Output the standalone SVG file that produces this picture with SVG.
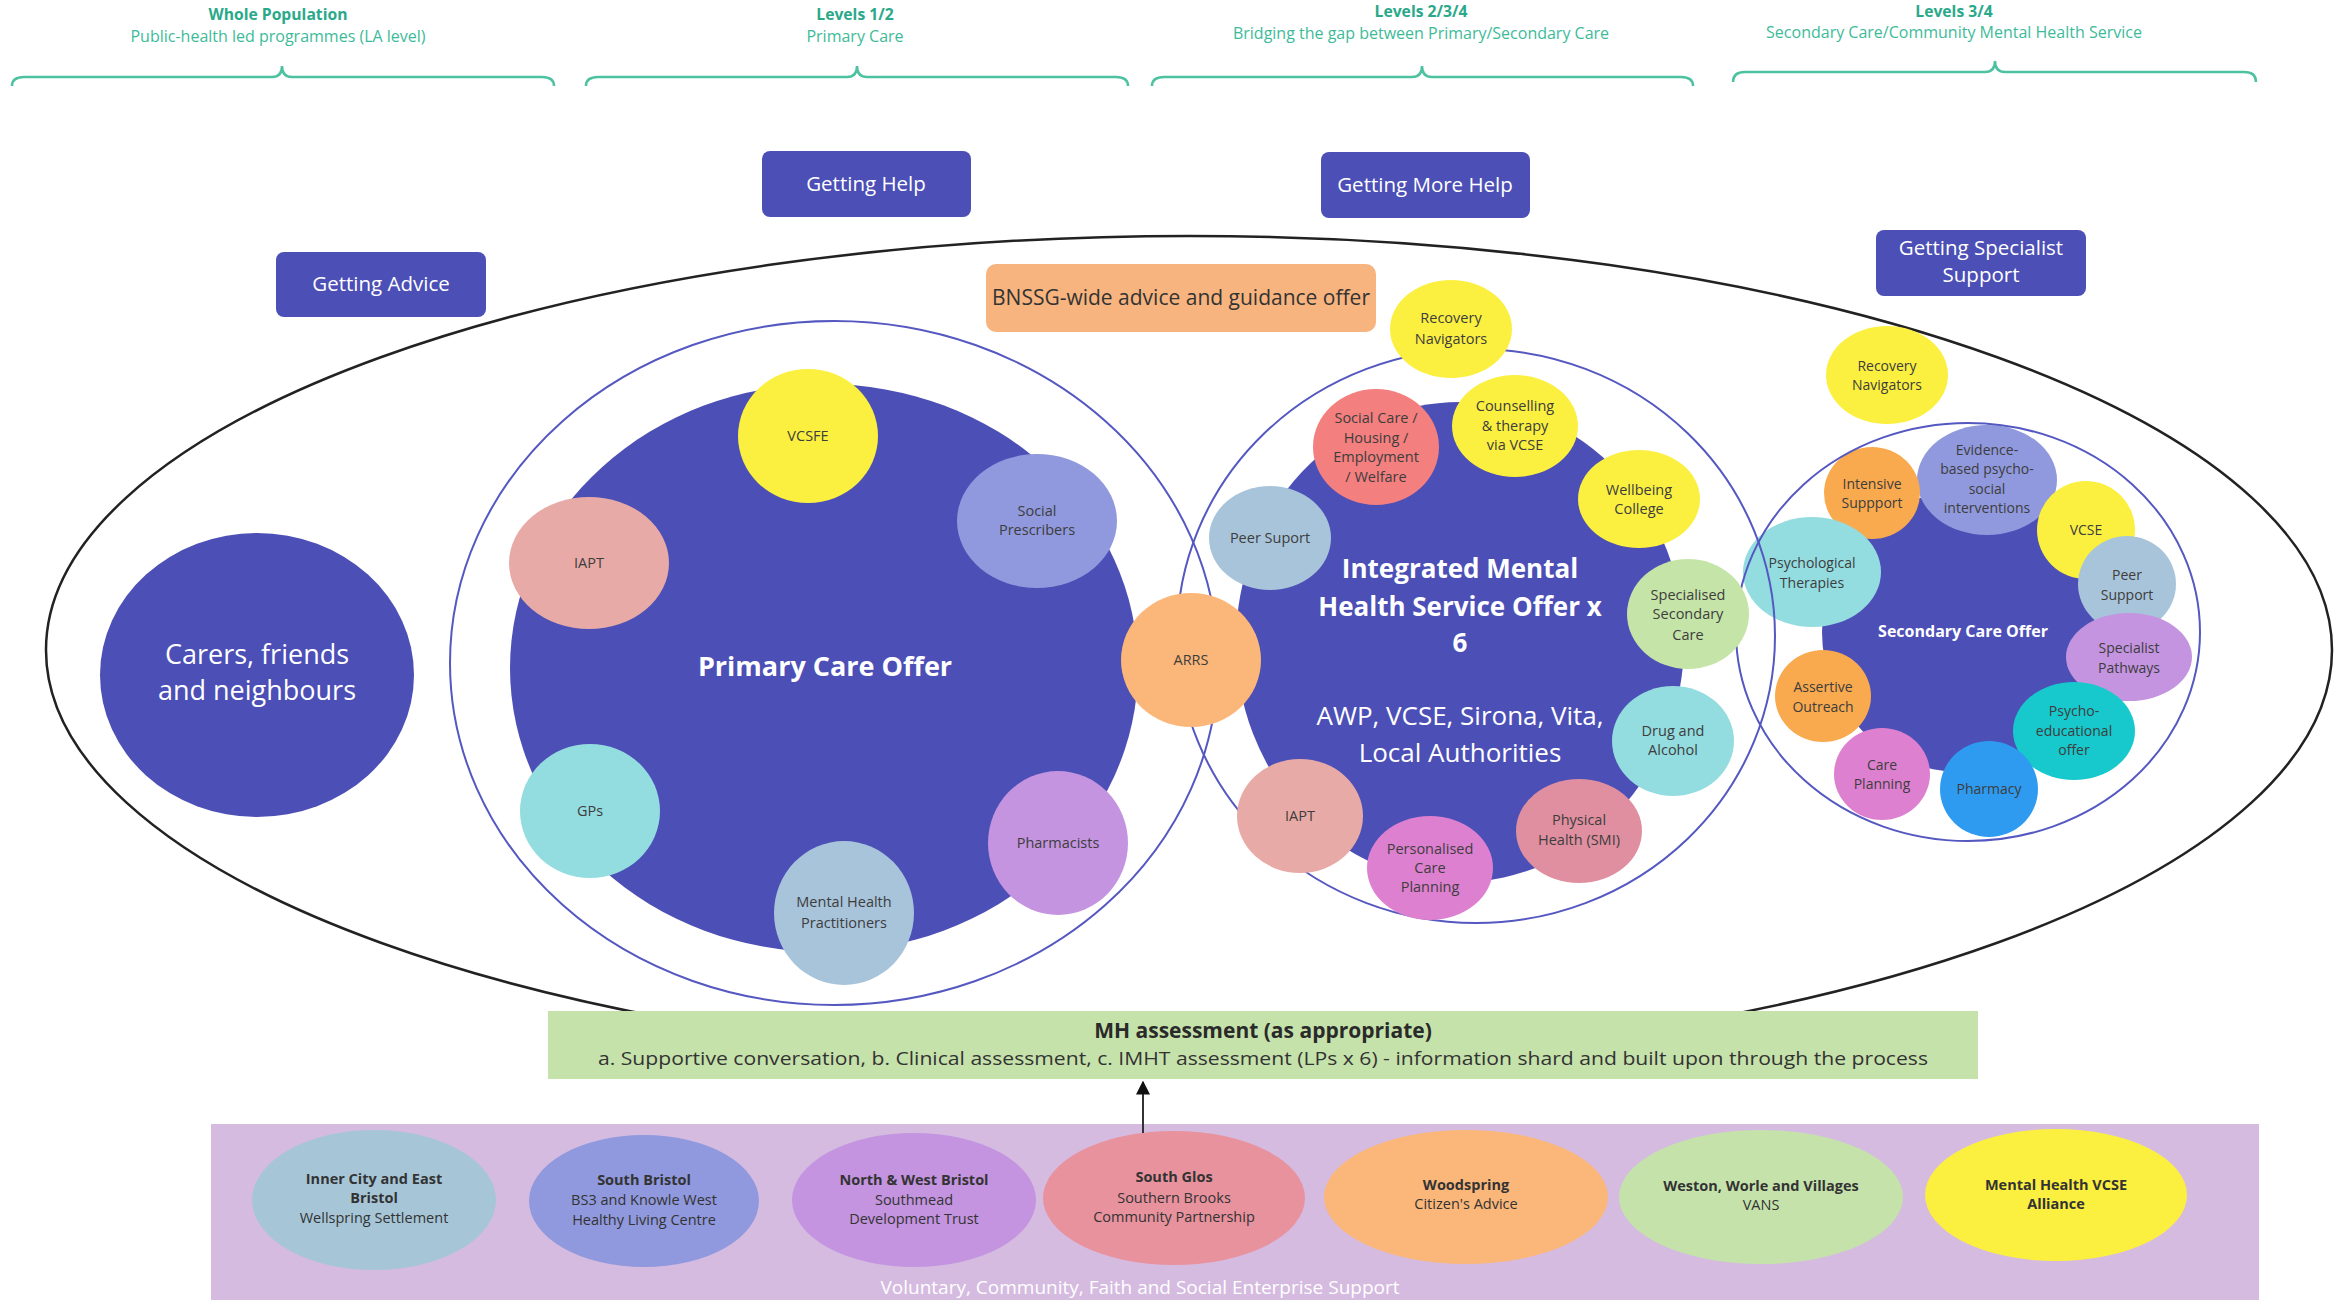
<svg xmlns="http://www.w3.org/2000/svg" width="2343" height="1300" viewBox="0 0 2343 1300">
<style>
text { font-family: "Open Sans", "Liberation Sans", sans-serif; text-anchor: middle; }
.hb { font-size: 15.7px; font-weight: bold; fill: #2aa98a; }
.hs { font-size: 16px; fill: #3dbb99; }
.brace { fill: none; stroke: #4cc2a0; stroke-width: 2.5; }
.btn { fill: #4c4fb6; }
.btnt { font-size: 20.5px; fill: #ffffff; }
.outline { fill: none; stroke: #5458c0; stroke-width: 2; }
.fillc { fill: #4c4fb6; }
.wb { fill: #ffffff; font-weight: bold; }
.wr { fill: #ffffff; }
.s { font-size: 14.5px; fill: #3d3d3d; }
.ss { font-size: 14px; fill: #3d3d3d; }
.b { font-size: 14.5px; fill: #333333; }
.bb { font-weight: bold; }
</style>
<defs>
<marker id="arr" viewBox="0 0 10 10" refX="9" refY="5" markerWidth="7" markerHeight="7" orient="auto">
<path d="M0,0 L10,5 L0,10 z" fill="#111111"/>
</marker>
</defs>

<g id="headers">
<text class="hb" x="278" y="20">Whole Population</text>
<text class="hs" x="278" y="42">Public-health led programmes (LA level)</text>
<path class="brace" d="M12,86 Q12,77 24,77 L272,77 Q282,77 282,66 Q282,77 292,77 L542,77 Q554,77 554,86"/>
<text class="hb" x="855" y="20">Levels 1/2</text>
<text class="hs" x="855" y="42">Primary Care</text>
<path class="brace" d="M586,86 Q586,77 598,77 L847,77 Q857,77 857,66 Q857,77 867,77 L1116,77 Q1128,77 1128,86"/>
<text class="hb" x="1421" y="17">Levels 2/3/4</text>
<text class="hs" x="1421" y="39">Bridging the gap between Primary/Secondary Care</text>
<path class="brace" d="M1152,86 Q1152,77 1164,77 L1412,77 Q1422,77 1422,66 Q1422,77 1432,77 L1681,77 Q1693,77 1693,86"/>
<text class="hb" x="1954" y="17">Levels 3/4</text>
<text class="hs" x="1954" y="38">Secondary Care/Community Mental Health Service</text>
<path class="brace" d="M1733,82 Q1733,72 1745,72 L1985,72 Q1995,72 1995,61 Q1995,72 2005,72 L2244,72 Q2256,72 2256,82"/>
</g>

<g id="big-ellipse">
<ellipse cx="1189" cy="650" rx="1143" ry="414" fill="none" stroke="#222222" stroke-width="2.5"/>
</g>

<g id="btn-help"><rect class="btn" x="762" y="151" width="209" height="66" rx="8"/><text class="btnt" x="866" y="191">Getting Help</text></g>
<g id="btn-more-help"><rect class="btn" x="1321" y="152" width="209" height="66" rx="8"/><text class="btnt" x="1425" y="192">Getting More Help</text></g>
<g id="btn-advice"><rect class="btn" x="276" y="252" width="210" height="65" rx="8"/><text class="btnt" x="381" y="291">Getting Advice</text></g>
<g id="btn-specialist"><rect class="btn" x="1876" y="230" width="210" height="66" rx="8"/><text class="btnt" x="1981" y="255">Getting Specialist</text><text class="btnt" x="1981" y="282">Support</text></g>

<g id="bnssg"><rect x="986" y="264" width="390" height="68" rx="10" fill="#f8b47e"/><text x="1181" y="305" font-size="21" fill="#333333">BNSSG-wide advice and guidance offer</text></g>

<g id="carers"><ellipse class="fillc" cx="257" cy="675" rx="157" ry="142"/><text class="wr" x="257" y="664" font-size="27">Carers, friends</text><text class="wr" x="257" y="700" font-size="27">and neighbours</text></g>

<g id="primary-care">
<ellipse class="outline" cx="834" cy="663" rx="384" ry="342"/>
<ellipse class="fillc" cx="824" cy="668" rx="314" ry="284"/>
<text class="wb" x="825" y="676" font-size="27">Primary Care Offer</text>
</g>
<g id="p-vcsfe"><ellipse cx="808" cy="436" rx="70" ry="67" fill="#fbf040"/><text class="s" x="808" y="441">VCSFE</text></g>
<g id="p-social"><ellipse cx="1037" cy="521" rx="80" ry="67" fill="#9099dd"/><text class="s" x="1037" y="516">Social</text><text class="s" x="1037" y="535">Prescribers</text></g>
<g id="p-iapt"><ellipse cx="589" cy="563" rx="80" ry="66" fill="#e8aaa6"/><text class="s" x="589" y="568">IAPT</text></g>
<g id="p-gps"><ellipse cx="590" cy="811" rx="70" ry="67" fill="#93dce0"/><text class="s" x="590" y="816">GPs</text></g>
<g id="p-mhp"><ellipse cx="844" cy="913" rx="70" ry="72" fill="#a8c4da"/><text class="s" x="844" y="907">Mental Health</text><text class="s" x="844" y="928">Practitioners</text></g>
<g id="p-pharm"><ellipse cx="1058" cy="843" rx="70" ry="72" fill="#c494e0"/><text class="s" x="1058" y="848">Pharmacists</text></g>

<g id="secondary-care">
<ellipse class="fillc" cx="1960" cy="632" rx="138" ry="140"/>
<text class="wb" x="1963" y="637" font-size="16">Secondary Care Offer</text>
</g>
<g id="s-recovery"><ellipse cx="1887" cy="375" rx="61" ry="49" fill="#fbf040"/><text class="ss" x="1887" y="371">Recovery</text><text class="ss" x="1887" y="390">Navigators</text></g>
<g id="s-evidence"><ellipse cx="1987" cy="480" rx="70" ry="55" fill="#9099dd"/><text class="ss" x="1987" y="455">Evidence-</text><text class="ss" x="1987" y="474">based psycho-</text><text class="ss" x="1987" y="494">social</text><text class="ss" x="1987" y="513">interventions</text></g>
<g id="s-intensive"><ellipse cx="1872" cy="493" rx="48" ry="46" fill="#f9a94e"/><text class="ss" x="1872" y="489">Intensive</text><text class="ss" x="1872" y="508">Suppport</text></g>
<g id="s-vcse"><ellipse cx="2086" cy="530" rx="49" ry="49" fill="#fbf040"/><text class="ss" x="2086" y="535">VCSE</text></g>
<g id="s-psych"><ellipse cx="1812" cy="572" rx="69" ry="55" fill="#93dce0"/><text class="ss" x="1812" y="568">Psychological</text><text class="ss" x="1812" y="588">Therapies</text></g>
<g id="s-peer"><ellipse cx="2127" cy="584" rx="49" ry="48" fill="#a8c4da"/><text class="ss" x="2127" y="580">Peer</text><text class="ss" x="2127" y="600">Support</text></g>
<g id="s-specialist"><ellipse cx="2129" cy="657" rx="63" ry="44" fill="#c494e0"/><text class="ss" x="2129" y="653">Specialist</text><text class="ss" x="2129" y="673">Pathways</text></g>
<g id="s-assertive"><ellipse cx="1823" cy="696" rx="48" ry="46" fill="#f9a94e"/><text class="ss" x="1823" y="692">Assertive</text><text class="ss" x="1823" y="712">Outreach</text></g>
<g id="s-psychoed"><ellipse cx="2074" cy="731" rx="61" ry="49" fill="#17c9cc"/><text class="ss" x="2074" y="716">Psycho-</text><text class="ss" x="2074" y="736">educational</text><text class="ss" x="2074" y="755">offer</text></g>
<g id="s-careplan"><ellipse cx="1882" cy="774" rx="48" ry="46" fill="#de80d0"/><text class="ss" x="1882" y="770">Care</text><text class="ss" x="1882" y="789">Planning</text></g>
<g id="s-pharmacy"><ellipse cx="1989" cy="789" rx="49" ry="48" fill="#2e9bf0"/><text class="ss" x="1989" y="794">Pharmacy</text></g>
<g id="outlines">
<ellipse class="outline" cx="1968" cy="632" rx="232" ry="209"/>
<ellipse class="outline" cx="1476" cy="636" rx="299" ry="287"/>
</g>

<g id="integrated">
<ellipse class="fillc" cx="1460" cy="642" rx="224" ry="240"/>
<text class="wb" x="1460" y="578" font-size="26">Integrated Mental</text>
<text class="wb" x="1460" y="616" font-size="26">Health Service Offer x</text>
<text class="wb" x="1460" y="652" font-size="26">6</text>
<text class="wr" x="1460" y="725" font-size="26">AWP, VCSE, Sirona, Vita,</text>
<text class="wr" x="1460" y="762" font-size="26">Local Authorities</text>
</g>
<g id="i-recovery"><ellipse cx="1451" cy="329" rx="61" ry="49" fill="#fbf040"/><text class="s" x="1451" y="323">Recovery</text><text class="s" x="1451" y="344">Navigators</text></g>
<g id="i-social"><ellipse cx="1376" cy="447" rx="63" ry="58" fill="#f47f7f"/><text class="s" x="1376" y="423">Social Care /</text><text class="s" x="1376" y="443">Housing /</text><text class="s" x="1376" y="462">Employment</text><text class="s" x="1376" y="482">/ Welfare</text></g>
<g id="i-counselling"><ellipse cx="1515" cy="426" rx="63" ry="51" fill="#fbf040"/><text class="s" x="1515" y="411">Counselling</text><text class="s" x="1515" y="431">&amp; therapy</text><text class="s" x="1515" y="450">via VCSE</text></g>
<g id="i-wellbeing"><ellipse cx="1639" cy="499" rx="61" ry="49" fill="#fbf040"/><text class="s" x="1639" y="495">Wellbeing</text><text class="s" x="1639" y="514">College</text></g>
<g id="i-peer"><ellipse cx="1270" cy="538" rx="61" ry="52" fill="#a8c4da"/><text class="s" x="1270" y="543">Peer Suport</text></g>
<g id="i-specialised"><ellipse cx="1688" cy="614" rx="61" ry="55" fill="#c5e4a8"/><text class="s" x="1688" y="600">Specialised</text><text class="s" x="1688" y="619">Secondary</text><text class="s" x="1688" y="640">Care</text></g>
<g id="i-drug"><ellipse cx="1673" cy="741" rx="61" ry="55" fill="#93dce0"/><text class="s" x="1673" y="736">Drug and</text><text class="s" x="1673" y="755">Alcohol</text></g>
<g id="i-physical"><ellipse cx="1579" cy="831" rx="63" ry="52" fill="#e08fa0"/><text class="s" x="1579" y="825">Physical</text><text class="s" x="1579" y="845">Health (SMI)</text></g>
<g id="i-personalised"><ellipse cx="1430" cy="868" rx="63" ry="52" fill="#de80d0"/><text class="s" x="1430" y="854">Personalised</text><text class="s" x="1430" y="873">Care</text><text class="s" x="1430" y="892">Planning</text></g>
<g id="i-iapt"><ellipse cx="1300" cy="816" rx="63" ry="57" fill="#e8aaa6"/><text class="s" x="1300" y="821">IAPT</text></g>

<g id="p-arrs"><ellipse cx="1191" cy="660" rx="70" ry="67" fill="#fbb77a"/><text class="s" x="1191" y="665">ARRS</text></g>

<g id="mh-assessment">
<rect x="548" y="1011" width="1430" height="68" fill="#c6e2ab"/>
<text x="1263" y="1038" font-size="21" font-weight="bold" fill="#2a2a2a">MH assessment (as appropriate)</text>
<text x="1263" y="1065" font-size="19" fill="#333333" textLength="1330" lengthAdjust="spacingAndGlyphs">a. Supportive conversation, b. Clinical assessment, c. IMHT assessment (LPs x 6) - information shard and built upon through the process</text>
</g>

<g id="vcse-band">
<rect x="211" y="1124" width="2048" height="176" fill="#d5bbe0"/>
<text x="1140" y="1294" font-size="19" fill="#ffffff">Voluntary, Community, Faith and Social Enterprise Support</text>
</g>
<g id="b-inner"><ellipse cx="374" cy="1200" rx="122" ry="70" fill="#a6c6d8"/><text class="b bb" x="374" y="1184">Inner City and East</text><text class="b bb" x="374" y="1203">Bristol</text><text class="b" x="374" y="1223">Wellspring Settlement</text></g>
<g id="b-south-bristol"><ellipse cx="644" cy="1201" rx="115" ry="66" fill="#9099dd"/><text class="b bb" x="644" y="1185">South Bristol</text><text class="b" x="644" y="1205">BS3 and Knowle West</text><text class="b" x="644" y="1225">Healthy Living Centre</text></g>
<g id="b-nw-bristol"><ellipse cx="914" cy="1200" rx="122" ry="67" fill="#c494e0"/><text class="b bb" x="914" y="1185">North &amp; West Bristol</text><text class="b" x="914" y="1205">Southmead</text><text class="b" x="914" y="1224">Development Trust</text></g>
<g id="b-south-glos"><ellipse cx="1174" cy="1198" rx="131" ry="67" fill="#e8929e"/><text class="b bb" x="1174" y="1182">South Glos</text><text class="b" x="1174" y="1203">Southern Brooks</text><text class="b" x="1174" y="1222">Community Partnership</text></g>
<g id="b-woodspring"><ellipse cx="1466" cy="1197" rx="142" ry="67" fill="#fbb77a"/><text class="b bb" x="1466" y="1190">Woodspring</text><text class="b" x="1466" y="1209">Citizen's Advice</text></g>
<g id="b-weston"><ellipse cx="1761" cy="1197" rx="142" ry="67" fill="#c5e2ab"/><text class="b bb" x="1761" y="1191">Weston, Worle and Villages</text><text class="b" x="1761" y="1210">VANS</text></g>
<g id="b-mhvcse"><ellipse cx="2056" cy="1195" rx="131" ry="66" fill="#fbf040"/><text class="b bb" x="2056" y="1190">Mental Health VCSE</text><text class="b bb" x="2056" y="1209">Alliance</text></g>

<g id="connectors">
<line x1="1143" y1="1133" x2="1143" y2="1082" stroke="#333333" stroke-width="2" marker-end="url(#arr)"/>
</g>
</svg>
